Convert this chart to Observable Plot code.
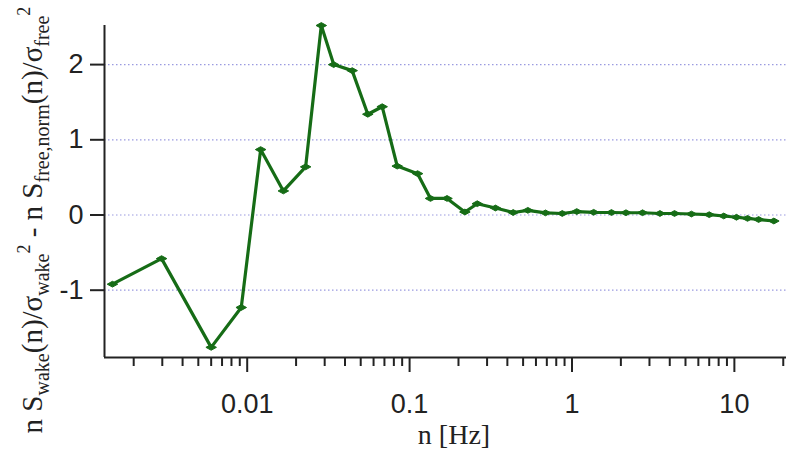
<!DOCTYPE html>
<html>
<head>
<meta charset="utf-8">
<script src="https://cdn.jsdelivr.net/npm/d3@7"></script>
<script src="https://cdn.jsdelivr.net/npm/@observablehq/plot@0.6"></script>
<style>
  body { margin: 0; background: #fff; }
  #chart svg { display: block; }
</style>
</head>
<body>
<div id="chart"></div>
<script>
// Frequency (Hz) of each spectral estimate
const freq = [0.00148, 0.00297, 0.0060, 0.00919, 0.0121, 0.0167, 0.0229, 0.0286,
  0.0341, 0.0443, 0.0553, 0.0678, 0.0839, 0.112, 0.1345, 0.170,
  0.219, 0.261, 0.338, 0.4345, 0.535, 0.687, 0.871, 1.07,
  1.36, 1.75, 2.15, 2.72, 3.48, 4.28, 5.44, 7.0,
  8.6, 10.3, 12.05, 14.1, 17.5];

// Normalised wake spectrum minus normalised free-stream spectrum
const diff = [-0.92, -0.58, -1.76, -1.23, 0.87, 0.32, 0.64, 2.52,
  2.0, 1.92, 1.34, 1.44, 0.65, 0.55, 0.22, 0.22,
  0.04, 0.15, 0.093, 0.033, 0.062, 0.028, 0.02, 0.046,
  0.036, 0.033, 0.03, 0.03, 0.02, 0.02, 0.013, 0.004,
  -0.013, -0.03, -0.045, -0.06, -0.08];

const yTicks = [-1, 0, 1, 2];
const yLabels = ["-1", "0", "1", "2"];
const xMajor = [0.01, 0.1, 1, 10];
const xLabels = ["0.01", "0.1", "1", "10"];
const xMinor = [0.002, 0.003, 0.004, 0.005, 0.006, 0.007, 0.008, 0.009,
  0.02, 0.03, 0.04, 0.05, 0.06, 0.07, 0.08, 0.09,
  0.2, 0.3, 0.4, 0.5, 0.6, 0.7, 0.8, 0.9,
  2, 3, 4, 5, 6, 7, 8, 9, 20];

const xDomain = [0.001322, 20.94];
const yDomain = [-1.895, 2.52];

const rows = freq.map((f, i) => ({ f, v: diff[i] }));

// flat diamond marker
const flatDiamond = {
  draw(ctx, size) {
    const w = Math.sqrt(size) * 1.1;
    const h = w * 0.55;
    ctx.moveTo(-w, 0);
    ctx.lineTo(0, -h);
    ctx.lineTo(w, 0);
    ctx.lineTo(0, h);
    ctx.closePath();
  }
};

const green = "#166c16";
const ink = "#222";
const sans = "Liberation Sans, Arial, sans-serif";

const chart = Plot.plot({
  width: 786,
  height: 454,
  marginLeft: 104,
  marginRight: 0,
  marginTop: 25,
  marginBottom: 97,
  style: { color: ink, background: "#fff" },
  x: { type: "log", domain: xDomain },
  y: { domain: yDomain },
  marks: [
    Plot.ruleY(yTicks, { stroke: "#9a9ae0", strokeWidth: 1.2, strokeDasharray: "1.5,2.5" }),
    // tick marks
    Plot.axisY({ ticks: yTicks, tickSize: 14, strokeWidth: 2, stroke: ink, label: null, tickFormat: () => "" }),
    Plot.axisX({ ticks: xMinor, tickSize: 9, strokeWidth: 2, stroke: ink, label: null, tickFormat: () => "" }),
    Plot.axisX({ ticks: xMajor, tickSize: 15, strokeWidth: 2, stroke: ink, label: null, tickFormat: () => "" }),
    // tick labels
    Plot.text(yTicks, { x: () => xDomain[0], y: d => d, text: (d, i) => yLabels[i],
      dx: -21, textAnchor: "end", lineAnchor: "middle", fontSize: 27, fontFamily: sans, fill: ink }),
    Plot.text(xMajor, { x: d => d, y: () => yDomain[0], text: (d, i) => xLabels[i],
      dy: 36, lineAnchor: "top", fontSize: 27, fontFamily: sans, fill: ink }),
    // axis lines
    Plot.ruleX([xDomain[0]], { stroke: ink, strokeWidth: 2 }),
    Plot.ruleY([yDomain[0]], { stroke: ink, strokeWidth: 2 }),
    // series
    Plot.line(rows, { x: "f", y: "v", stroke: green, strokeWidth: 3.2 }),
    Plot.dot(rows, { x: "f", y: "v", symbol: flatDiamond, r: 2.7, fill: green, stroke: green, strokeWidth: 1 })
  ]
});

document.getElementById("chart").appendChild(chart);

const svg = d3.select(chart);
const serif = "Liberation Serif, Times New Roman, serif";

// x-axis title
svg.append("text")
  .attr("x", 454).attr("y", 444)
  .attr("text-anchor", "middle")
  .attr("font-family", serif)
  .attr("font-size", 28)
  .attr("fill", ink)
  .text("n [Hz]");

// y-axis title with sub- and superscripts
const yt = svg.append("text")
  .attr("transform", "translate(42,220) rotate(-90)")
  .attr("text-anchor", "middle")
  .attr("font-family", serif)
  .attr("font-size", 28)
  .attr("fill", ink);

const parts = [
  ["n S", 29, 0],
  ["wake", 20, 7],
  ["(n)/σ", 29, -7],
  ["wake", 20, 7],
  ["2", 18, -19],
  [" - n S", 29, 12],
  ["free,norm", 20, 7],
  ["(n)/σ", 29, -7],
  ["free", 20, 7],
  ["2", 18, -19]
];
parts.forEach(([t, size, dy]) => {
  yt.append("tspan").attr("font-size", size).attr("dy", dy).text(t);
});
</script>
</body>
</html>
